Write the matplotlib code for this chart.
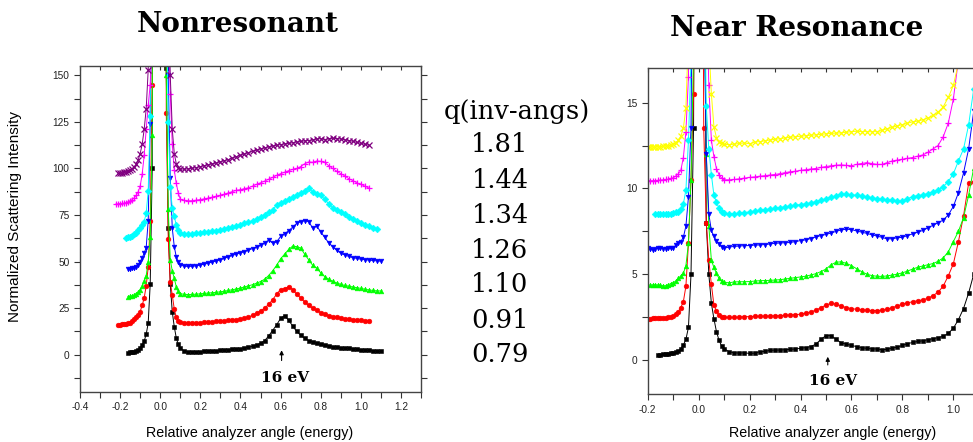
import numpy as np
import matplotlib
matplotlib.use("Agg")
import matplotlib.pyplot as plt
from matplotlib.ticker import MultipleLocator, FuncFormatter

nan = float("nan")

# ---------------- Nonresonant panel (left) ----------------
x_nonres = [-0.22, -0.21, -0.20, -0.19, -0.18, -0.17, -0.16, -0.15, -0.14, -0.13,
            -0.12, -0.11, -0.10, -0.09, -0.08, -0.07, -0.06, -0.05, -0.04,
            0.0,
            0.03, 0.04, 0.05, 0.06, 0.07, 0.08, 0.09, 0.10,
            0.12, 0.14, 0.16, 0.18, 0.20, 0.22, 0.24, 0.26, 0.28, 0.30,
            0.32, 0.34, 0.36, 0.38, 0.40, 0.42, 0.44, 0.46, 0.48, 0.50,
            0.52, 0.54, 0.56, 0.58, 0.60, 0.62, 0.64, 0.66, 0.68, 0.70,
            0.72, 0.74, 0.76, 0.78, 0.80, 0.82, 0.84, 0.86, 0.88, 0.90,
            0.92, 0.94, 0.96, 0.98, 1.00, 1.02, 1.04, 1.06, 1.08, 1.10]

nr_079 = [nan, nan, nan, nan, nan, nan, 1.2, 1.3, 1.4, 1.6, 2.0, 2.6, 3.6, 5.2, 7.3, 11, 17, 38, 100,
          3000,
          154, 68, 38, 23, 15, 9, 5.5, 3.5,
          2.0, 1.7, 1.6, 1.6, 1.7, 1.8, 1.9, 2.0, 2.2, 2.4,
          2.6, 2.8, 3.0, 3.1, 3.3, 3.6, 4.0, 4.6, 5.2, 6.2,
          7.5, 10, 13, 16, 19.5, 21, 18.5, 15.5, 12.5, 10.5,
          8.8, 7.6, 6.8, 6.1, 5.6, 5.1, 4.7, 4.4, 4.1, 3.8,
          3.6, 3.4, 3.1, 2.9, 2.7, 2.5, 2.3, 2.1, 1.9, 1.8]
nr_091 = [nan, 16.0, 16.2, 16.3, 16.4, 16.6, 16.8, 17.3, 18.0, 19.0, 20.0, 21.5, 23.2, 26.5, 30.5, 37, 47, 72, 145,
          3000,
          130, 62, 39, 32, 24.5, 20, 18.2, 17.6,
          17.2, 17.0, 17.0, 17.2, 17.3, 17.4, 17.6, 17.8, 17.9, 18.0,
          18.2, 18.4, 18.7, 18.9, 19.2, 19.7, 20.3, 21.1, 22.2, 23.5,
          25.0, 27.0, 29.5, 32.5, 35.0, 35.5, 36.5, 35.0, 32.5, 30.5,
          28.3, 26.5, 25.0, 23.8, 22.6, 21.7, 21.0, 20.5, 20.0, 19.6,
          19.3, 19.0, 18.8, 18.6, 18.4, 18.2, 18.1, nan, nan, nan]
nr_110 = [nan, nan, nan, nan, nan, nan, 31.2, 31.3, 31.5, 32.0, 32.8, 33.6, 35.0, 36.8, 39.5, 42.5, 50, 63, 118,
          3000,
          150, 78, 51, 45, 41, 36.5, 34, 32.8,
          32.4, 32.3, 32.4, 32.5, 32.7, 32.9, 33.1, 33.3, 33.5, 33.8,
          34.1, 34.5, 34.9, 35.3, 35.8, 36.4, 37.0, 37.6, 38.4, 39.3,
          40.5, 42.5, 45.0, 48.0, 51.5, 54.0, 56.5, 58.3, 58.0, 57.3,
          54.0, 51.0, 48.0, 46.5, 44.0, 42.0, 40.5, 39.5, 38.5, 37.8,
          37.2, 36.8, 36.4, 36.0, 35.6, 35.2, 34.8, 34.5, 34.3, 34.2]
nr_126 = [nan, nan, nan, nan, nan, nan, 46.1, 46.0, 46.3, 46.6, 47.3, 48.4, 50.0, 52.0, 54.5, 57.5, 72, 124, 250,
          3000,
          250, 150, 95, 68, 58, 52.5, 49.8, 48.2,
          47.5, 47.4, 47.5, 47.7, 48.2, 48.6, 49.2, 49.8, 50.4, 51.0,
          51.8, 52.6, 53.4, 54.0, 54.7, 55.4, 56.2, 57.0, 57.8, 58.8,
          60.0, 61.5, 60.0, 60.5, 63.5, 65.0, 66.5, 68.5, 70.5, 71.5,
          72.0, 71.5, 68.0, 69.0, 66.0, 63.0, 60.0, 58.0, 56.0, 54.5,
          53.5, 52.8, 52.2, 51.7, 51.3, 51.0, 50.8, 50.6, 50.4, 50.2]
nr_134 = [nan, nan, nan, nan, nan, 62.8, 63.0, 63.2, 63.8, 64.6, 65.5, 66.7, 68.0, 69.8, 71.5, 76, 88, 128, 250,
          3000,
          200, 125, 90, 79, 74.3, 69.5, 67, 65.5,
          65.0, 64.9, 65.0, 65.4, 65.6, 65.8, 66.0, 66.2, 66.6, 67.0,
          67.5, 68.0, 68.6, 69.2, 69.8, 70.5, 71.2, 72.0, 73.0, 74.0,
          75.2, 76.4, 77.5, 80.5, 81.5, 82.5, 83.5, 84.8, 86.0, 87.0,
          88.0, 89.4, 87.5, 86.5, 85.5, 83.5, 81.0, 78.8, 77.5, 76.5,
          75.5, 74.0, 72.8, 71.8, 70.8, 69.8, 69.0, 68.3, 67.3, nan]
nr_144 = [81.0, 81.0, 81.1, 81.2, 81.4, 81.6, 82.0, 82.5, 83.3, 84.2, 85.5, 87.5, 90.5, 97, 107, 121, 134, 145, 175,
          3000,
          260, 175, 140, 113, 99, 92, 86.7, 83.5,
          82.8, 82.6, 82.7, 83.0, 83.3, 83.7, 84.1, 84.6, 85.1, 85.6,
          86.2, 86.9, 87.6, 88.3, 88.6, 89.2, 89.6, 90.5, 91.5, 92.3,
          93.2, 94.2, 95.2, 96.3, 97.2, 98.0, 98.8, 99.5, 100.0, 101.0,
          102.5, 103.5, 103.3, 104.0, 103.8, 103.2, 101.5, 100.0, 98.5, 97.2,
          96.0, 94.5, 93.5, 92.3, 91.5, 90.5, 89.5, nan, nan, nan]
nr_181 = [nan, 97.4, 97.5, 97.7, 97.9, 98.2, 98.5, 99.0, 99.8, 100.8, 102.2, 104.5, 108, 113, 121, 132, 153, 190, 260,
          3000,
          300, 200, 150, 121, 108, 102.5, 100.5, 99.8,
          99.6, 99.8, 100.1, 100.5, 101.0, 101.5, 102.0, 102.5, 103.0, 103.6,
          104.2, 104.8, 105.6, 106.4, 107.0, 107.8, 108.5, 109.2, 109.8, 110.5,
          111.0, 111.6, 112.0, 112.5, 112.8, 113.2, 113.5, 113.8, 114.2, 114.5,
          114.8, 115.0, 115.3, 115.8, 116.0, 115.5, 116.0, 116.2, 116.0, 115.8,
          115.4, 115.0, 114.6, 114.0, 113.5, 113.0, 112.5, nan, nan, nan]

# ---------------- Near Resonance panel (right) ----------------
x_res = [-0.20, -0.19, -0.18, -0.17, -0.16, -0.15, -0.14, -0.13, -0.12, -0.11,
         -0.10, -0.09, -0.08, -0.07, -0.06, -0.05, -0.04, -0.03, -0.02,
         0.0,
         0.02, 0.03, 0.04, 0.05, 0.06, 0.07, 0.08, 0.09, 0.10,
         0.12, 0.14, 0.16, 0.18, 0.20, 0.22, 0.24, 0.26, 0.28, 0.30,
         0.32, 0.34, 0.36, 0.38, 0.40, 0.42, 0.44, 0.46, 0.48, 0.50,
         0.52, 0.54, 0.56, 0.58, 0.60, 0.62, 0.64, 0.66, 0.68, 0.70,
         0.72, 0.74, 0.76, 0.78, 0.80, 0.82, 0.84, 0.86, 0.88, 0.90,
         0.92, 0.94, 0.96, 0.98, 1.00, 1.02, 1.04, 1.06, 1.08, 1.10]

rs_079 = [nan, nan, nan, nan, 0.29, 0.31, 0.33, 0.35, 0.37, 0.39, 0.41, 0.45, 0.50, 0.65, 0.87, 1.2, 1.9, 5.0, 13.5,
          80,
          30, 8.0, 5.0, 3.3, 2.4, 1.65, 1.15, 0.82, 0.65,
          0.48, 0.42, 0.40, 0.42, 0.38, 0.40, 0.48, 0.50, 0.56, 0.58,
          0.58, 0.60, 0.62, 0.64, 0.68, 0.72, 0.78, 0.92, 1.20, 1.42,
          1.42, 1.20, 1.00, 0.92, 0.85, 0.78, 0.72, 0.68, 0.65, 0.64,
          0.60, 0.62, 0.70, 0.75, 0.85, 0.95, 1.02, 1.08, 1.12, 1.18,
          1.24, 1.30, 1.38, 1.55, 1.85, 2.35, 3.00, 3.90, 5.00, 7.00]
rs_091 = [2.40, 2.41, 2.42, 2.42, 2.43, 2.44, 2.45, 2.47, 2.49, 2.53, 2.58, 2.68, 2.82, 3.05, 3.4, 4.3, 6.8, 10.5, 15.5,
          80,
          13.5, 8.0, 5.8, 4.4, 3.2, 2.85, 2.62, 2.52, 2.49,
          2.48, 2.48, 2.50, 2.52, 2.53, 2.54, 2.55, 2.55, 2.56, 2.57,
          2.58, 2.60, 2.62, 2.64, 2.67, 2.72, 2.80, 2.90, 3.05, 3.20,
          3.30, 3.25, 3.15, 3.05, 3.00, 2.95, 2.92, 2.90, 2.88, 2.88,
          2.90, 2.95, 3.05, 3.15, 3.25, 3.32, 3.40, 3.45, 3.50, 3.60,
          3.75, 3.95, 4.30, 4.90, 5.60, 6.90, 8.40, 10.3, 10.4, 13.0]
rs_110 = [nan, 4.37, 4.37, 4.37, 4.37, 4.35, 4.32, 4.32, 4.38, 4.45, 4.50, 4.60, 4.76, 4.90, 5.05, 5.5, 6.8, 10.5, 18,
          80,
          25, 12, 7.8, 5.8, 5.4, 5.05, 4.75, 4.6, 4.52,
          4.50, 4.55, 4.56, 4.56, 4.57, 4.60, 4.62, 4.63, 4.64, 4.66,
          4.68, 4.72, 4.76, 4.80, 4.84, 4.88, 4.95, 5.03, 5.15, 5.30,
          5.55, 5.70, 5.72, 5.63, 5.50, 5.32, 5.15, 5.00, 4.92, 4.88,
          4.87, 4.90, 4.95, 5.00, 5.08, 5.18, 5.30, 5.40, 5.48, 5.55,
          5.62, 5.75, 5.95, 6.30, 6.90, 7.50, 8.30, 9.60, 11.2, 13.0]
rs_126 = [6.50, 6.45, 6.41, 6.48, 6.51, 6.50, 6.49, 6.49, 6.50, 6.51, 6.52, 6.70, 6.80, 6.90, 7.15, 7.8, 9.5, 13.5, 30,
          80,
          22, 12, 8.5, 7.55, 7.2, 6.95, 6.75, 6.6, 6.52,
          6.58, 6.62, 6.64, 6.66, 6.67, 6.70, 6.70, 6.73, 6.76, 6.80,
          6.82, 6.83, 6.85, 6.90, 6.96, 7.00, 7.08, 7.17, 7.25, 7.32,
          7.40, 7.50, 7.58, 7.62, 7.60, 7.52, 7.45, 7.38, 7.30, 7.22,
          7.15, 7.05, 7.07, 7.12, 7.15, 7.25, 7.35, 7.45, 7.55, 7.70,
          7.85, 8.00, 8.15, 8.45, 8.95, 9.75, 10.9, 12.3, 14.5, 17.0]
rs_134 = [nan, nan, nan, 8.50, 8.50, 8.49, 8.50, 8.51, 8.52, 8.53, 8.55, 8.60, 8.65, 8.80, 9.10, 9.90, 12.8, 17.5, 40,
          80,
          25, 14.8, 12.3, 10.8, 9.6, 9.18, 8.85, 8.65, 8.56,
          8.52, 8.51, 8.56, 8.59, 8.63, 8.68, 8.72, 8.76, 8.80, 8.84,
          8.88, 8.93, 8.98, 9.02, 9.06, 9.10, 9.16, 9.22, 9.30, 9.40,
          9.48, 9.57, 9.65, 9.65, 9.62, 9.60, 9.56, 9.52, 9.46, 9.40,
          9.36, 9.33, 9.30, 9.25, 9.25, 9.40, 9.52, 9.58, 9.62, 9.70,
          9.78, 9.90, 10.1, 10.4, 10.85, 11.6, 12.3, 13.7, 15.8, 18.0]
rs_144 = [10.45, 10.45, 10.45, 10.46, 10.47, 10.49, 10.50, 10.52, 10.53, 10.58, 10.62, 10.72, 10.85, 11.05, 11.8, 13.3, 16.5, 30, 50,
          80,
          40, 22, 16, 12.8, 11.85, 11.15, 10.8, 10.6, 10.5,
          10.50, 10.52, 10.56, 10.60, 10.64, 10.67, 10.71, 10.74, 10.78, 10.81,
          10.86, 10.92, 10.97, 11.00, 11.05, 11.09, 11.13, 11.16, 11.22, 11.27,
          11.32, 11.35, 11.37, 11.34, 11.32, 11.40, 11.45, 11.50, 11.45, 11.40,
          11.40, 11.50, 11.60, 11.65, 11.70, 11.75, 11.80, 11.88, 11.95, 12.10,
          12.30, 12.50, 13.00, 13.80, 15.20, 17.50, 20.0, nan, nan, nan]
rs_181 = [12.40, 12.40, 12.41, 12.42, 12.43, 12.44, 12.46, 12.47, 12.48, 12.52, 12.58, 12.66, 12.80, 13.05, 13.5, 14.7, 19, 35, 60,
          80,
          50, 30, 18.5, 15.5, 13.6, 12.95, 12.7, 12.63, 12.57,
          12.55, 12.58, 12.62, 12.65, 12.60, 12.70, 12.73, 12.77, 12.82, 12.86,
          12.90, 12.94, 12.98, 13.01, 13.04, 13.07, 13.10, 13.12, 13.15, 13.18,
          13.21, 13.22, 13.24, 13.27, 13.31, 13.33, 13.31, 13.31, 13.30, 13.31,
          13.38, 13.48, 13.56, 13.64, 13.72, 13.80, 13.88, 13.92, 14.00, 14.10,
          14.25, 14.45, 14.75, 15.30, 16.00, 17.30, 19.0, nan, nan, nan]

q_labels = ["1.81", "1.44", "1.34", "1.26", "1.10", "0.91", "0.79"]

nonres_series = [nr_079, nr_091, nr_110, nr_126, nr_134, nr_144, nr_181]
res_series = [rs_079, rs_091, rs_110, rs_126, rs_134, rs_144, rs_181]
nonres_colors = ["black", "#ff0000", "#00ff00", "#0000ff", "#00ffff", "#ff00ff", "#800080"]
res_colors = ["black", "#ff0000", "#00ff00", "#0000ff", "#00ffff", "#ff00ff", "#ffff00"]
markers = ["s", "o", "^", "v", "D", "+", "x"]

W, H = 973, 442
fig = plt.figure(figsize=(W / 100, H / 100), dpi=100)

sans = ["Liberation Sans", "DejaVu Sans"]
serif = ["DejaVu Serif"]
tick_col = "#333333"


def style_axes(ax, xmaj, xmin, ymaj, ymin):
    ax.xaxis.set_major_locator(MultipleLocator(xmaj))
    ax.xaxis.set_minor_locator(MultipleLocator(xmin))
    ax.yaxis.set_major_locator(MultipleLocator(ymaj))
    ax.yaxis.set_minor_locator(MultipleLocator(ymin))
    ax.xaxis.set_major_formatter(FuncFormatter(lambda v, p: f"{v:.1f}"))
    ax.tick_params(which="both", direction="out", left=True, bottom=True,
                   color=tick_col, width=0.8, length=4, labelsize=7.3, labelcolor="#222222")
    ax.tick_params(which="both", top=True, right=True)
    for t in ax.xaxis.get_major_ticks() + ax.xaxis.get_minor_ticks():
        t.tick2line.set_marker(3)  # top ticks pointing down (inward)
        t.tick2line.set_markersize(3)
    for lab in ax.get_xticklabels() + ax.get_yticklabels():
        lab.set_family(sans)
    for s in ax.spines.values():
        s.set_color("#444444")
        s.set_linewidth(1.0)


def draw(ax, x, series, colors):
    xs = np.array(x)
    for ys, c, m in zip(series, colors, markers):
        ys = np.array(ys, dtype=float)
        if m in ("+", "x"):
            ax.plot(xs, ys, color=c, lw=0.7, marker=m, ms=4.5, mew=0.9)
        else:
            ax.plot(xs, ys, color=c, lw=0.7, marker=m, ms=3.4, mew=0.4, mec=c, mfc=c)


# left axes
axL = fig.add_axes([80 / W, 1 - 392 / H, 341 / W, 326 / H])
draw(axL, x_nonres, nonres_series, nonres_colors)
axL.set_xlim(-0.4, 1.3)
axL.set_ylim(-20, 155)
style_axes(axL, 0.2, 0.1, 25, 12.5)
axL.annotate("", xy=(0.605, 3.9), xytext=(0.605, -4.6),
             arrowprops=dict(arrowstyle="-|>", color="black", lw=0.8, mutation_scale=6))
axL.text(0.623, -12.6, "16 eV", ha="center", va="center", fontsize=11, fontweight="bold", family=serif)

# right axes (extends past the figure edge, as in the reference)
axR = fig.add_axes([647.7 / W, 1 - 394.3 / H, 1.39 * 254.7 / W, 326 / H])
draw(axR, x_res, res_series, res_colors)
axR.set_xlim(-0.2, 1.19)
axR.set_ylim(-2, 17)
style_axes(axR, 0.2, 0.1, 5, 2.5)
axR.annotate("", xy=(0.507, 0.35), xytext=(0.507, -0.45),
             arrowprops=dict(arrowstyle="-|>", color="black", lw=0.8, mutation_scale=6))
axR.text(0.529, -1.22, "16 eV", ha="center", va="center", fontsize=11, fontweight="bold", family=serif)

# titles and labels
fig.text(238 / W, 1 - 24 / H, "Nonresonant", ha="center", va="center", fontsize=20,
         fontweight="bold", family=serif)
fig.text(797 / W, 1 - 28 / H, "Near Resonance", ha="center", va="center", fontsize=20,
         fontweight="bold", family=serif)
fig.text(15 / W, 1 - 217 / H, "Normalized Scattering Intensity", rotation=90,
         ha="center", va="center", fontsize=11, family=sans)
fig.text(250 / W, 1 - 433 / H, "Relative analyzer angle (energy)", ha="center", va="center",
         fontsize=10.3, family=sans)
fig.text(833 / W, 1 - 433 / H, "Relative analyzer angle (energy)", ha="center", va="center",
         fontsize=10.3, family=sans)

fig.text(517 / W, 1 - 112 / H, "q(inv-angs)", ha="center", va="center", fontsize=18.5,
         family=serif)
for i, q in enumerate(q_labels):
    fig.text(500 / W, 1 - (145 + 35 * i) / H, q, ha="center", va="center", fontsize=18.5,
             family=serif)

fig.savefig("out.png", dpi=100)
